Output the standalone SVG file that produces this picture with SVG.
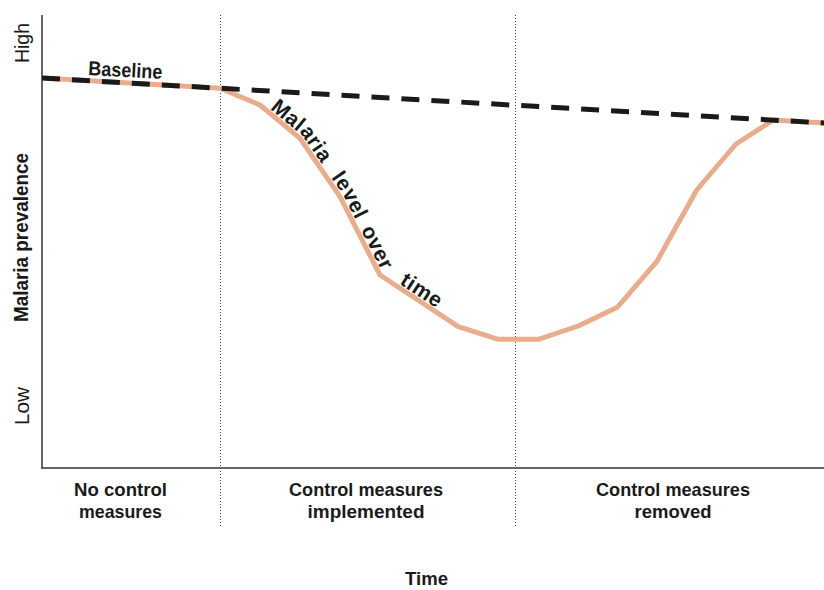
<svg xmlns="http://www.w3.org/2000/svg" xmlns:xlink="http://www.w3.org/1999/xlink" width="824" height="590" viewBox="0 0 824 590">
  <style>
    text { font-family: "Liberation Sans", Arial, sans-serif; fill: #1a1a1a; }
    .b { font-weight: bold; font-size: 20px; }
    .lbl { font-weight: bold; font-size: 19px; }
    .r { font-size: 20px; }
    .axis { stroke: #333; stroke-width: 1.5; fill: none; }
    .dot { stroke: #444; stroke-width: 1; stroke-dasharray: 1 2; fill: none; }
    .malaria { stroke: #E8AD8F; stroke-width: 5; fill: none; stroke-linejoin: round; }
    .baseline { stroke: #1a1a1a; stroke-width: 5; stroke-dasharray: 18 12; fill: none; }
    .pathlbl { font-weight: bold; font-size: 21px; letter-spacing: 0.6px; }
  </style>
  <defs>
    <path id="lblpath" d="M262.2,102.3 L302.6,136 L343,194.9 L382.5,272.7 L460.2,323.8"/>
  </defs>
  <rect width="824" height="590" fill="#fff"/>

  <g id="axes">
    <line class="axis" x1="42" y1="15" x2="42" y2="468.5"/>
    <line class="axis" x1="41.25" y1="468" x2="824" y2="468"/>
    <line class="dot" x1="220.5" y1="15" x2="220.5" y2="527"/>
    <line class="dot" x1="515.5" y1="15" x2="515.5" y2="527"/>
  </g>

  <g id="connectors">
    <polyline id="malaria-line" class="malaria" points="42,78 220,88.2 260,105 300,138.3 340,196.7 380,275 458.3,326.7 498.3,339.3 538.3,339.3 578.3,326 617.3,307.3 656.7,261.7 696.7,190 736,144 773.3,120 824,123"/>
    <line id="baseline-line" class="baseline" x1="42" y1="78" x2="824" y2="123"/>
  </g>

  <g id="labels">
    <text class="b" x="88" y="75" transform="rotate(3 88 75)" textLength="74" lengthAdjust="spacingAndGlyphs">Baseline</text>
    <text class="pathlbl">
      <textPath xlink:href="#lblpath" href="#lblpath" startOffset="10">Malaria</textPath>
      <textPath xlink:href="#lblpath" href="#lblpath" startOffset="103">level</textPath>
      <textPath xlink:href="#lblpath" href="#lblpath" startOffset="163">over</textPath>
      <textPath xlink:href="#lblpath" href="#lblpath" startOffset="231">time</textPath>
    </text>
  </g>

  <g id="y-labels">
    <text class="r" text-anchor="middle" transform="translate(29 43) rotate(-90)" textLength="40" lengthAdjust="spacingAndGlyphs">High</text>
    <text class="r" text-anchor="middle" transform="translate(28.5 406) rotate(-90)" textLength="38" lengthAdjust="spacingAndGlyphs">Low</text>
    <text class="b" style="font-size:19.5px" text-anchor="middle" transform="translate(27.5 237.5) rotate(-90)" textLength="169" lengthAdjust="spacingAndGlyphs">Malaria prevalence</text>
  </g>

  <g id="phase-no-control">
    <text class="lbl" text-anchor="middle" x="120.5" y="496" textLength="93" lengthAdjust="spacingAndGlyphs">No control</text>
    <text class="lbl" text-anchor="middle" x="120.5" y="518" textLength="83" lengthAdjust="spacingAndGlyphs">measures</text>
  </g>
  <g id="phase-implemented">
    <text class="lbl" text-anchor="middle" x="366" y="496" textLength="154" lengthAdjust="spacingAndGlyphs">Control measures</text>
    <text class="lbl" text-anchor="middle" x="366" y="518" textLength="117" lengthAdjust="spacingAndGlyphs">implemented</text>
  </g>
  <g id="phase-removed">
    <text class="lbl" text-anchor="middle" x="673" y="496" textLength="154" lengthAdjust="spacingAndGlyphs">Control measures</text>
    <text class="lbl" text-anchor="middle" x="673" y="518" textLength="77" lengthAdjust="spacingAndGlyphs">removed</text>
  </g>
  <g id="x-title">
    <text class="lbl" text-anchor="middle" x="426.5" y="585" textLength="43" lengthAdjust="spacingAndGlyphs">Time</text>
  </g>
</svg>
